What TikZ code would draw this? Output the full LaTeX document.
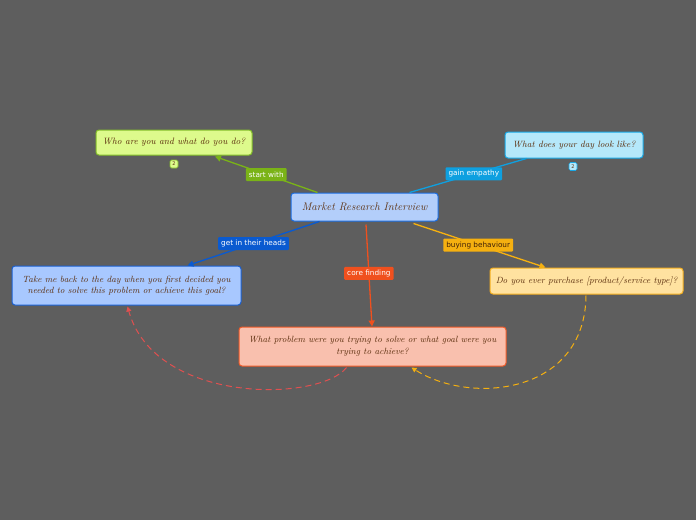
\documentclass[tikz,border=0pt]{standalone}
\usepackage{fontspec}
\newfontfamily\lblfont{DejaVu Sans}
\usetikzlibrary{arrows.meta,calc}
\definecolor{bg}{HTML}{5E5E5E}
\definecolor{txt}{HTML}{5A2D0C}
\definecolor{cfill}{HTML}{B3CEFA}\definecolor{cdraw}{HTML}{1A6CE0}
\definecolor{gfill}{HTML}{DDFA8C}\definecolor{gdraw}{HTML}{84BF2A}\definecolor{gline}{HTML}{7AB317}
\definecolor{tfill}{HTML}{B5E8FA}\definecolor{tdraw}{HTML}{18A8E6}\definecolor{tline}{HTML}{0EA0E0}
\definecolor{lfill}{HTML}{A8C8FF}\definecolor{ldraw}{HTML}{1A5FD0}\definecolor{lline}{HTML}{0A5AD0}
\definecolor{rfill}{HTML}{FFE2A0}\definecolor{rdraw}{HTML}{F5B020}\definecolor{rline}{HTML}{F5B010}
\definecolor{bfill}{HTML}{F9C0AE}\definecolor{bdraw}{HTML}{F05A28}\definecolor{bline}{HTML}{F0501E}
\definecolor{dred}{HTML}{E05050}
\tikzset{
  topic/.style={draw, line width=1pt, rounded corners=3pt, text=txt, align=center, inner sep=2pt},
  badge/.style={draw, line width=0.6pt, rounded corners=1.5pt, font=\lblfont\fontsize{5}{6}\selectfont, text=txt, inner sep=0.5pt, minimum width=8pt, minimum height=8pt},
  lbl/.style={rounded corners=1pt, font=\lblfont\fontsize{7.3}{9}\selectfont, text=white, inner xsep=3pt, inner ysep=2pt, minimum height=13pt},
  conn/.style={line width=1.3pt},
  tip/.style={-{Triangle[length=6pt,width=6pt]}},
  dconn/.style={line width=1pt, dash pattern=on 6pt off 4pt, -{Triangle[length=5pt,width=5pt]}}
}
\begin{document}
\begin{tikzpicture}[x=1pt,y=-1pt]
\fill[bg] (0,0) rectangle (696,520);
\useasboundingbox (0,0) rectangle (696,520);

\node[topic, fill=cfill, draw=cdraw, minimum width=147pt, minimum height=28pt, font=\itshape\fontsize{11}{13}\selectfont] (central) at (364.5,207) {Market Research Interview};
\node[topic, fill=gfill, draw=gdraw, minimum width=156pt, minimum height=25pt, font=\itshape\fontsize{9.2}{11}\selectfont] (tl) at (174,142.5) {Who are you and what do you do?};
\node[badge, fill=gfill, draw=gdraw] (tlb) at (174,164) {2};
\node[topic, fill=tfill, draw=tdraw, minimum width=138pt, minimum height=26pt, font=\itshape\fontsize{9.1}{11}\selectfont] (tr) at (574,145) {What does your day look like?};
\node[badge, fill=tfill, draw=tdraw] (trb) at (573,166.5) {2};
\node[topic, fill=lfill, draw=ldraw, minimum width=229pt, minimum height=39pt, font=\itshape\fontsize{9}{11.5}\selectfont] (left) at (126.5,285.5) {Take me back to the day when you first decided you\\ needed to solve this problem or achieve this goal?};
\node[topic, fill=rfill, draw=rdraw, minimum width=193pt, minimum height=26pt, font=\itshape\fontsize{9}{11}\selectfont] (right) at (586.5,281) {Do you ever purchase [product/service type]?};
\node[topic, fill=bfill, draw=bdraw, minimum width=267pt, minimum height=39pt, font=\itshape\fontsize{9}{11.5}\selectfont] (bottom) at (372.5,346.5) {What problem were you trying to solve or what goal were you\\ trying to achieve?};

\draw[conn, gline, tip] ($(central.north west)+(27,0)$) -- node[lbl, fill=gline, pos=0.5] (l1) {start with} ($(tl.south)+(41,1)$);
\draw[conn, tline] ($(central.north west)+(119,0)$) -- node[lbl, fill=tline, pos=0.55] (l2) {gain empathy} ($(tr.south west)+(22,0)$);
\draw[conn, lline, tip] ($(central.south west)+(29,0)$) -- node[lbl, fill=lline, pos=0.5] (l3) {get in their heads} ($(left.north west)+(176,0)$);
\draw[conn, bline, tip] ($(central.south)+(1.5,3)$) -- node[lbl, fill=bline, pos=0.48] (l4) {core finding} ($(bottom.north)+(-0.5,0)$);
\draw[conn, rline, tip] ($(central.south east)+(-25,2)$) -- node[lbl, fill=rline, text=txt!70!black, pos=0.49] (l5) {buying behaviour} ($(right.north west)+(56,0)$);

\draw[dconn, dred] ($(bottom.south west)+(108,1)$) .. controls (320,402) and (155,405) .. ($(left.south west)+(116,1)$);
\draw[dconn, rline] ($(right.south)+(-0.5,1)$) .. controls (585,395) and (470,405) .. ($(bottom.south west)+(173,1)$);
\end{tikzpicture}
\end{document}
